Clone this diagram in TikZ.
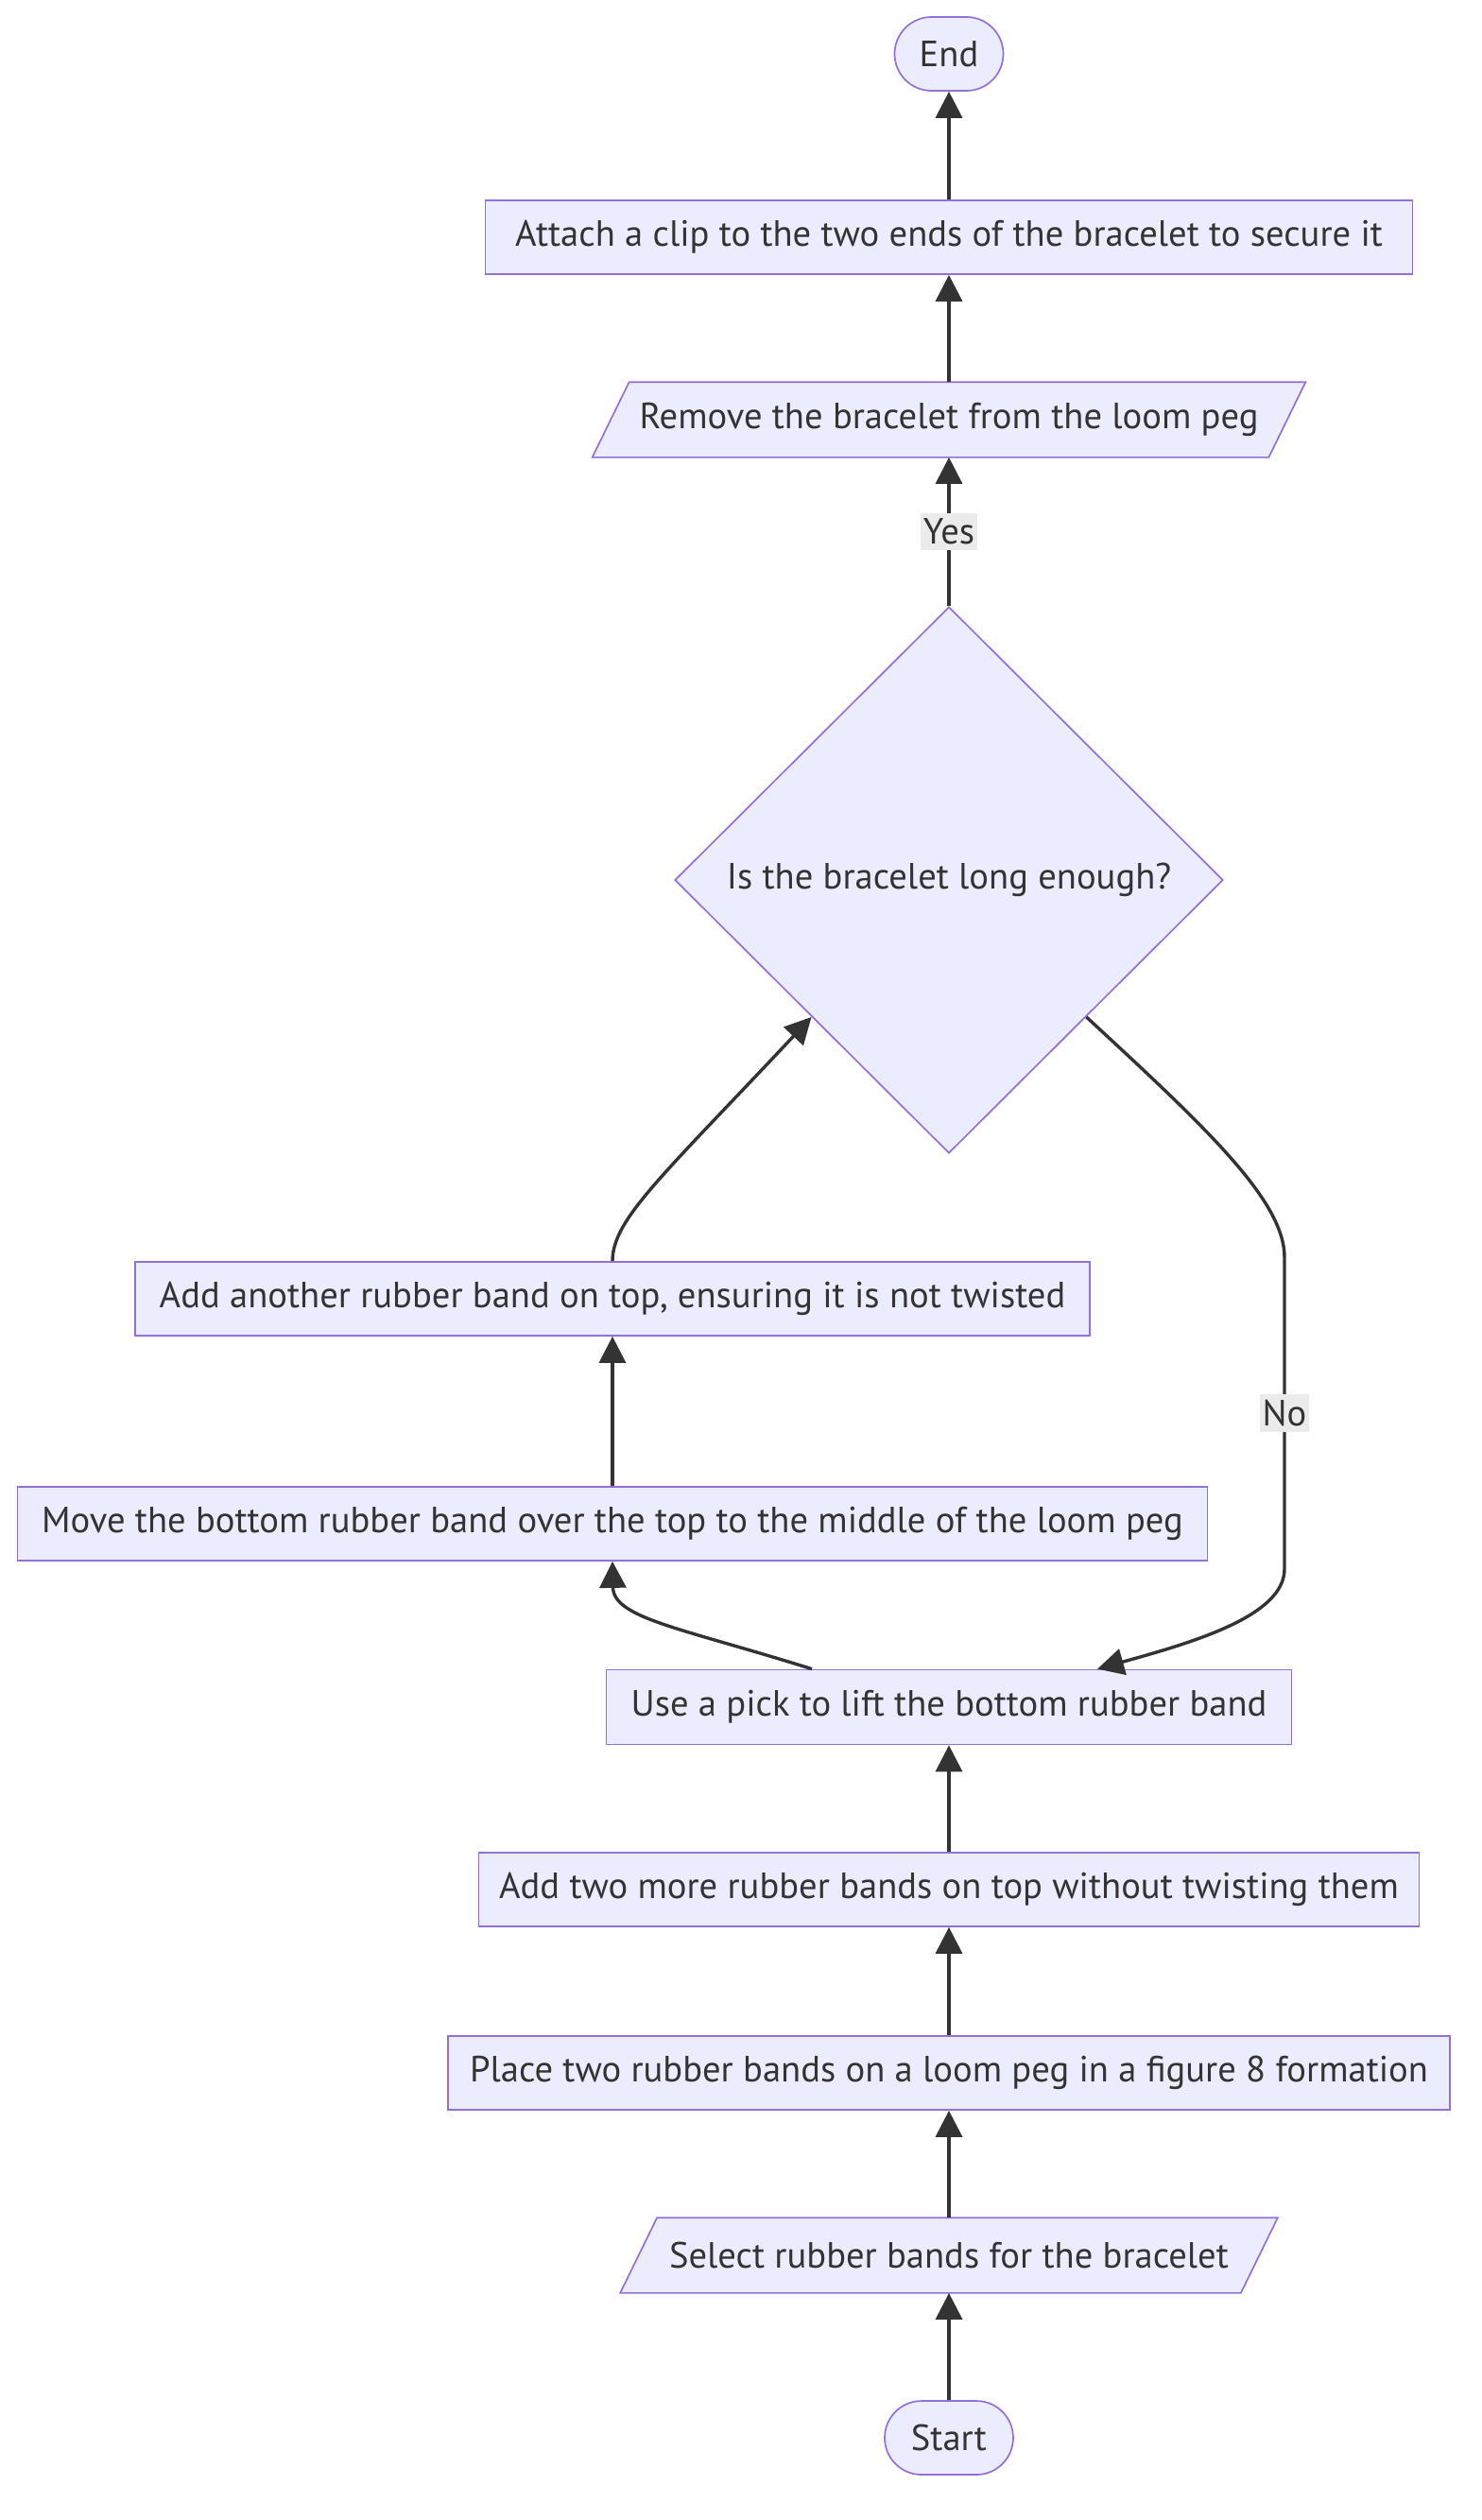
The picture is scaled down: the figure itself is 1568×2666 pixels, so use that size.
\documentclass[tikz,border=0pt]{standalone}
\usepackage{fontspec}
\setmainfont{PT Sans}
\usepackage{xcolor}
\usepackage{tikz}
\usetikzlibrary{shapes.geometric, arrows.meta, positioning, calc, backgrounds}
\definecolor{nodefill}{HTML}{ECECFF}
\definecolor{nodeline}{HTML}{9370DB}
\definecolor{inkgray}{HTML}{333333}
\definecolor{labelgray}{HTML}{EBEBEB}

\begin{document}
\begin{tikzpicture}[
    x=0.5pt, y=-0.5pt,
    process/.style={draw=nodeline, fill=nodefill, line width=0.85pt, 
                    minimum height=39pt, inner sep=0pt, text=inkgray,
                    font=\fontsize{19.3}{22}\selectfont},
    terminal/.style={process, rounded corners=19.5pt},
    io/.style={process, draw=none, fill=none},
    iobox/.style={draw=nodeline, fill=nodefill, line width=0.85pt},
    decision/.style={process, diamond, aspect=1, minimum width=290pt, 
                     minimum height=289pt},
    arrow/.style={-{Triangle[length=14pt, width=14pt]}, line width=1.7pt, inkgray},
    edgelabel/.style={fill=labelgray, text=inkgray, inner xsep=1.5pt, 
                      inner ysep=3pt, font=\fontsize{19.3}{22}\selectfont}
]
    \useasboundingbox (0,0) rectangle (1568,2666);

    % Start and first steps
    \node[terminal, minimum width=68pt] (start) at (1004,2579) {Start};
    \node[io, minimum width=327.5pt] (select) at (1004,2386) {Select rubber bands for the bracelet};
    \node[process, minimum width=530pt] (place) at (1004,2193) {Place two rubber bands on a loom peg in a figure 8 formation};
    \node[process, minimum width=497.5pt] (addtwo) at (1004,1999) {Add two more rubber bands on top without twisting them};

    % Loop
    \node[process, minimum width=362.5pt, minimum height=39.5pt] (lift) at (1004,1806) {Use a pick to lift the bottom rubber band};
    \node[process, minimum width=629.5pt] (move) at (648,1612) {Move the bottom rubber band over the top to the middle of the loom peg};
    \node[process, minimum width=505pt] (addone) at (648,1374) {Add another rubber band on top, ensuring it is not twisted};
    \node[decision] (check) at (1004,931) {Is the bracelet long enough?};

    % Finishing
    \node[io, minimum width=357pt] (remove) at (1004,444) {Remove the bracelet from the loom peg};
    \node[process, minimum width=490.5pt] (attach) at (1004,251) {Attach a clip to the two ends of the bracelet to secure it};
    \node[terminal, minimum width=57.5pt] (stop) at (1004,57) {End};

    % Input/output parallelograms
    \begin{scope}[on background layer]
        \foreach \n in {select, remove}
            \draw[iobox] ($(\n.south west)+(-19.5,0)$) -- ($(\n.north west)+(19.5,0)$)
                -- ($(\n.north east)+(19.5,0)$) -- ($(\n.south east)+(-19.5,0)$) -- cycle;
    \end{scope}

    % Straight flow
    \draw[arrow] (start) -- (select);
    \draw[arrow] (select) -- (place);
    \draw[arrow] (place) -- (addtwo);
    \draw[arrow] (addtwo) -- (lift);
    \draw[arrow] (move) -- (addone);
    \draw[arrow] (remove) -- (attach);
    \draw[arrow] (attach) -- (stop);

    % Curved flow
    \draw[arrow] ($(lift.north)+(-145,0)$) .. controls (720,1722) and (649,1712) .. (move.south);
    \draw[arrow] (addone.north) .. controls (648,1290) and (700,1245) .. (check.south west);

    % Decision
    \draw[arrow] (check.north) -- node[edgelabel] {Yes} (remove.south);
    \draw[arrow] (check.south east) .. controls (1275,1192) and (1359,1270) .. (1359,1330)
        -- node[edgelabel] {No} (1359,1660)
        .. controls (1359,1710) and (1260,1738) .. ($(lift.north)+(157,0)$);
\end{tikzpicture}
\end{document}
